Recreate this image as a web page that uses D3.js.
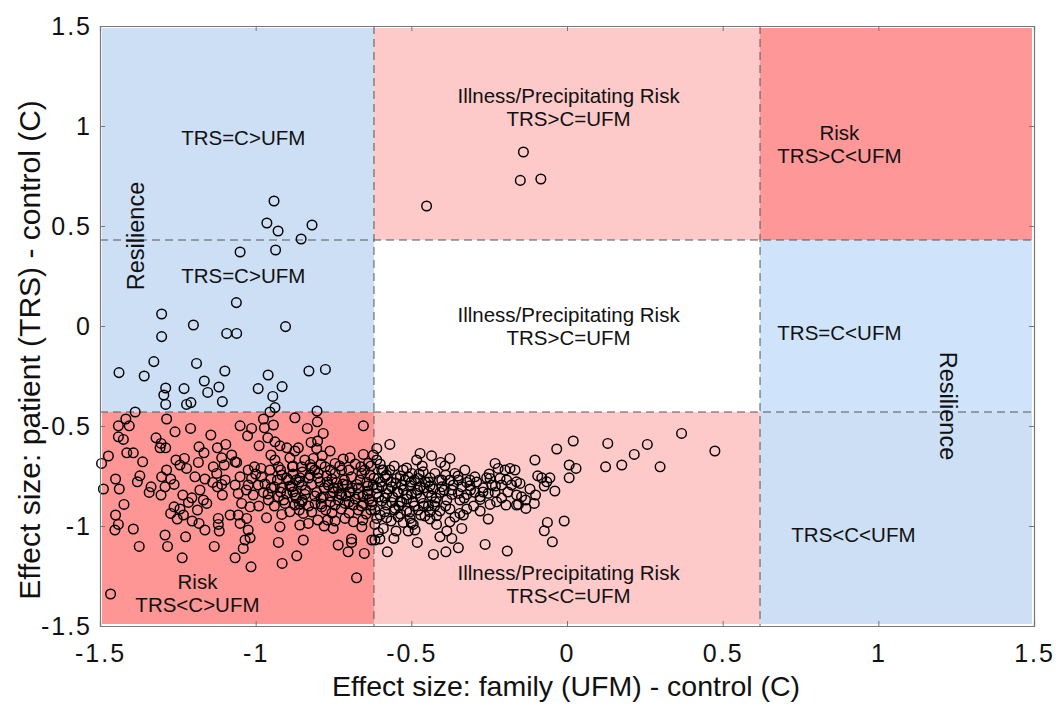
<!DOCTYPE html>
<html><head><meta charset="utf-8">
<script src="https://cdn.jsdelivr.net/npm/d3@7"></script>
<style>body{margin:0;background:#fff}svg{display:block;font-family:"Liberation Sans",Arial,sans-serif}</style>
</head><body><svg id="c" width="1056" height="706"></svg>
<script>
// ---- data ----
const xTicks = [-1.5, -1, -0.5, 0, 0.5, 1, 1.5];
const yTicks = [-1.5, -1, -0.5, 0, 0.5, 1, 1.5];
const tickText = ["-1.5", "-1", "-0.5", "0", "0.5", "1", "1.5"];
const xCuts = [-0.62, 0.62];
const yCuts = [-0.43, 0.43];
const xTitle = "Effect size: family (UFM) - control (C)";
const yTitle = "Effect size: patient (TRS) - control (C)";

// zones: [x0, x1, y0, y1, fill]
const zones = [
  [-1.5, -0.62, 0.43, 1.5, "#cddff5"],
  [-0.62, 0.62, 0.43, 1.5, "#fec9c9"],
  [0.62, 1.5, 0.43, 1.5, "#fe9797"],
  [-1.5, -0.62, -0.43, 0.43, "#cddff5"],
  [-0.62, 0.62, -0.43, 0.43, "#ffffff"],
  [0.62, 1.5, -0.43, 0.43, "#cfe4fb"],
  [-1.5, -0.62, -1.5, -0.43, "#fe9696"],
  [-0.62, 0.62, -1.5, -0.43, "#fec9c9"],
  [0.62, 1.5, -1.5, -0.43, "#cddff5"]
];
// labels: [x, y (first line centre), lines, rotation, size]
const zoneLabels = [
  [-1.04, 0.94, ["TRS=C>UFM"], 0, 20.5],
  [0.005, 1.15, ["Illness/Precipitating Risk", "TRS>C=UFM"], 0, 20.5],
  [0.875, 0.965, ["Risk", "TRS>C<UFM"], 0, 20.5],
  [-1.04, 0.25, ["TRS=C>UFM"], 0, 20.5],
  [0.005, 0.055, ["Illness/Precipitating Risk", "TRS>C=UFM"], 0, 20.5],
  [0.875, -0.035, ["TRS=C<UFM"], 0, 20.5],
  [-1.187, -1.28, ["Risk", "TRS<C>UFM"], 0, 20.5],
  [0.005, -1.235, ["Illness/Precipitating Risk", "TRS<C=UFM"], 0, 20.5],
  [0.92, -1.045, ["TRS<C<UFM"], 0, 20.5],
  [-1.385, 0.45, ["Resilience"], -90, 23.5],
  [1.225, -0.4, ["Resilience"], 90, 23.5]
];

const ptsUpper = [
  [-0.941,0.625],[-0.964,0.515],[-0.928,0.475],[-0.819,0.505],[-0.854,0.435],
  [-0.14,0.87],[-0.15,0.728],[-0.084,0.735],[-0.451,0.60]
];
const ptsMidLeft = [
  [-1.05,0.37],[-0.936,0.38],[-1.062,0.117],[-1.302,0.06],[-1.2,0.005],[-1.302,-0.053],
  [-1.093,-0.037],[-1.061,-0.037],[-0.904,-0.003],[-1.327,-0.178],[-1.19,-0.187],
  [-1.439,-0.233],[-1.358,-0.25],[-1.099,-0.225],[-1.165,-0.275],[-0.96,-0.245],
  [-0.829,-0.225],[-0.776,-0.217],[-1.289,-0.31],[-1.23,-0.313],[-1.118,-0.305],
  [-1.154,-0.332],[-0.992,-0.313],[-0.915,-0.303],[-0.945,-0.352],[-1.295,-0.345],
  [-1.289,-0.392],[-1.222,-0.392],[-1.208,-0.383],[-1.107,-0.378],[-0.938,-0.408],
  [-0.954,-0.43],[-0.803,-0.425],[-1.387,-0.43]
];
const ptsLowLeftA = [
  [-1.286,-0.465],[-1.209,-0.512],[-1.259,-0.529],[-1.417,-0.465],[-1.441,-0.499],[-1.406,-0.499],
  [-1.441,-0.554],[-1.425,-0.567],[-1.320,-0.559],[-1.304,-0.587],[-1.289,-0.609],[-1.307,-0.609],
  [-1.414,-0.634],[-1.393,-0.634],[-1.473,-0.65],[-1.495,-0.687],[-1.363,-0.679],[-1.144,-0.545],
  [-1.182,-0.604],[-1.166,-0.634],[-1.123,-0.609],[-1.096,-0.592],[-1.109,-0.659],[-1.077,-0.645],
  [-1.256,-0.67],[-1.229,-0.662],[-1.243,-0.695],[-1.222,-0.712],[-1.184,-0.682],[-1.136,-0.704],
  [-1.125,-0.737],[-1.101,-0.695],[-1.066,-0.679],[-1.286,-0.72],[-1.302,-0.754],[-1.273,-0.765],
  [-1.372,-0.749],[-1.380,-0.779],[-1.450,-0.765],[-1.438,-0.815],[-1.489,-0.815],[-1.336,-0.804],
  [-1.342,-0.832],[-1.304,-0.845],[-1.291,-0.804],[-1.262,-0.792],[-1.195,-0.754],[-1.163,-0.765],
  [-1.138,-0.782],[-1.109,-0.792],[-1.123,-0.804],[-1.098,-0.77],[-1.179,-0.82],[-1.234,-0.845],
  [-1.205,-0.859],[-1.168,-0.87],[-1.157,-0.887],[-1.107,-0.845],[-1.423,-0.892],[-1.262,-0.904],
  [-1.243,-0.915],[-1.216,-0.882],[-1.187,-0.92],[-1.273,-0.937],[-1.232,-0.945],[-1.252,-0.965],
  [-1.450,-0.945],[-1.441,-0.992],[-1.452,-1.02],[-1.204,-0.975],[-1.182,-0.987],[-1.163,-1.02],
  [-1.120,-0.962],[-1.120,-0.992],[-1.117,-1.025],[-1.082,-0.945],[-1.393,-1.015],[-1.291,-1.045],
  [-1.225,-1.054],[-1.374,-1.102],[-1.283,-1.102],[-1.133,-1.102],[-1.236,-1.159],[-1.066,-1.159],
  [-1.466,-1.34]
];
const ptsLowLeftB = [
  [-0.874,-0.459],[-1.050,-0.499],[-1.013,-0.512],[-1.026,-0.549],[-0.975,-0.465],[-0.972,-0.509],
  [-0.943,-0.495],[-0.834,-0.512],[-0.802,-0.479],[-0.783,-0.537],[-0.654,-0.499],[-0.961,-0.559],
  [-0.938,-0.579],[-0.989,-0.599],[-0.922,-0.599],[-0.900,-0.609],[-0.863,-0.609],[-0.822,-0.582],
  [-0.801,-0.575],[-0.804,-0.612],[-0.761,-0.625],[-0.874,-0.625],[-0.951,-0.645],[-0.938,-0.67],
  [-0.890,-0.659],[-0.842,-0.67],[-0.815,-0.662],[-0.786,-0.649],[-0.654,-0.642],[-1.061,-0.682],
  [-1.004,-0.704],[-0.983,-0.712],[-1.024,-0.72],[-0.954,-0.72],[-0.927,-0.704],[-0.882,-0.704],
  [-0.852,-0.704],[-0.825,-0.692],[-0.777,-0.704],[-0.745,-0.687],[-0.719,-0.665],[-0.697,-0.659],
  [-0.662,-0.704],[-0.638,-0.687],[-1.050,-0.754],[-1.013,-0.762],[-0.981,-0.754],[-0.951,-0.765],
  [-0.916,-0.745],[-0.895,-0.77],[-0.858,-0.759],[-0.825,-0.745],[-0.799,-0.737],[-0.772,-0.749],
  [-0.745,-0.737],[-0.724,-0.72],[-0.692,-0.754],[-0.659,-0.737],[-0.633,-0.745],[-1.066,-0.795],
  [-1.024,-0.795],[-0.992,-0.795],[-0.975,-0.832],[-0.940,-0.804],[-0.916,-0.809],[-0.884,-0.804],
  [-0.852,-0.795],[-0.820,-0.792],[-0.793,-0.779],[-0.767,-0.795],[-0.740,-0.782],[-0.708,-0.795],
  [-0.675,-0.792],[-0.643,-0.782],[-1.056,-0.837],[-1.008,-0.845],[-0.959,-0.87],[-0.927,-0.854],
  [-0.900,-0.837],[-0.874,-0.845],[-0.842,-0.842],[-0.804,-0.832],[-0.783,-0.854],[-0.751,-0.829],
  [-0.724,-0.845],[-0.697,-0.832],[-0.670,-0.842],[-0.638,-0.825],[-1.045,-0.887],[-1.018,-0.904],
  [-0.906,-0.887],[-0.874,-0.895],[-0.852,-0.879],[-0.809,-0.887],[-0.788,-0.904],[-0.745,-0.895],
  [-0.713,-0.887],[-0.686,-0.895],[-0.654,-0.887],[-0.627,-0.895],[-1.056,-0.945],[-1.029,-0.962],
  [-0.965,-0.959],[-0.916,-0.942],[-0.890,-0.929],[-0.847,-0.937],[-0.769,-0.97],[-0.745,-0.975],
  [-0.713,-0.962],[-0.686,-0.979],[-0.656,-0.97],[-1.050,-0.987],[-1.024,-1.02],[-0.922,-1.004],
  [-0.858,-0.995],[-0.831,-0.987],[-0.751,-1.012],[-0.659,-1.004],[-1.034,-1.07],[-1.018,-1.059],
  [-1.040,-1.112],[-0.927,-1.082],[-0.847,-1.07],[-0.735,-1.095],[-0.692,-1.065],[-0.692,-1.082],
  [-0.627,-1.07],[-0.703,-1.129],[-0.651,-1.137],[-0.868,-1.149],[-0.915,-1.187],[-1.015,-1.204],
  [-0.676,-1.259]
];
const ptsDense = [
  [-0.79,-0.69],[-0.76,-0.72],[-0.73,-0.70],[-0.70,-0.72],[-0.68,-0.69],[-0.65,-0.72],[-0.63,-0.70],
  [-0.78,-0.81],[-0.755,-0.765],[-0.735,-0.81],[-0.715,-0.77],[-0.69,-0.81],[-0.665,-0.77],[-0.64,-0.80],
  [-0.79,-0.86],[-0.76,-0.85],[-0.735,-0.87],[-0.71,-0.85],[-0.68,-0.865],[-0.655,-0.85],[-0.635,-0.865],
  [-0.775,-0.92],[-0.755,-0.935],[-0.725,-0.915],[-0.70,-0.935],[-0.67,-0.92],[-0.645,-0.94],
  [-0.81,-0.72],[-0.83,-0.76],[-0.85,-0.73],[-0.87,-0.77],[-0.84,-0.82],[-0.87,-0.86],[-0.83,-0.90],
  [-0.86,-0.92],[-0.89,-0.80],[-0.91,-0.87],[-0.80,-0.97],[-0.78,-1.0],
  [-0.60,-0.69],[-0.58,-0.745],[-0.555,-0.70],[-0.535,-0.75],[-0.515,-0.71],[-0.49,-0.77],[-0.465,-0.70],
  [-0.445,-0.78],[-0.60,-0.78],[-0.575,-0.815],[-0.55,-0.785],[-0.525,-0.82],[-0.50,-0.78],[-0.48,-0.82],
  [-0.455,-0.78],[-0.43,-0.815],[-0.605,-0.855],[-0.58,-0.895],[-0.56,-0.855],[-0.54,-0.90],[-0.515,-0.865],
  [-0.49,-0.90],[-0.47,-0.86],[-0.445,-0.90],[-0.42,-0.86],[-0.60,-0.945],[-0.565,-0.975],[-0.535,-0.94],
  [-0.50,-0.985],[-0.47,-0.945],[-0.44,-0.965],
  [-0.39,-0.745],[-0.37,-0.82],[-0.35,-0.75],[-0.33,-0.86],[-0.31,-0.82],[-0.29,-0.78],[-0.27,-0.83],
  [-0.25,-0.74],[-0.23,-0.80],[-0.21,-0.86],[-0.19,-0.83],[-0.39,-0.90],[-0.36,-0.955],[-0.30,-0.90],
  [-1.0,-0.74],[-0.97,-0.79],[-0.93,-0.77],[-0.96,-0.84],[-0.92,-0.83],[-0.99,-0.90],[-0.94,-0.90],
  [-0.88,-0.74],[-1.03,-0.82],
  [-0.88,-0.70],[-0.86,-0.78],[-0.82,-0.71],[-0.80,-0.76],[-0.77,-0.78],[-0.75,-0.81],[-0.72,-0.79],
  [-0.70,-0.83],[-0.67,-0.81],[-0.64,-0.84],[-0.62,-0.76],[-0.61,-0.81],[-0.85,-0.87],[-0.81,-0.85],
  [-0.79,-0.89],[-0.76,-0.88],[-0.73,-0.84],[-0.70,-0.88],[-0.66,-0.90],[-0.63,-0.92],
  [-0.59,-0.72],[-0.565,-0.78],[-0.545,-0.83],[-0.52,-0.77],[-0.50,-0.84],[-0.475,-0.74],[-0.46,-0.81],
  [-0.435,-0.85],[-0.41,-0.77],[-0.395,-0.82],[-0.585,-0.86],[-0.555,-0.92],[-0.53,-0.88],[-0.505,-0.93],
  [-0.46,-0.90],[-0.425,-0.90],[-0.92,-0.72],[-0.90,-0.76],[-0.95,-0.81],[-0.88,-0.83],[-0.86,-0.89],
  [-0.82,-0.93]
];
const ptsLowMid = [
  [-0.569,-0.592],[-0.611,-0.612],[-0.622,-0.645],[-0.611,-0.67],[-0.472,-0.637],[-0.435,-0.649],
  [-0.483,-0.67],[-0.376,-0.662],[-0.406,-0.682],[-0.392,-0.699],[-0.595,-0.72],[-0.569,-0.72],
  [-0.526,-0.72],[-0.499,-0.737],[-0.462,-0.729],[-0.424,-0.737],[-0.360,-0.737],[-0.328,-0.72],
  [-0.296,-0.754],[-0.258,-0.759],[-0.231,-0.687],[-0.221,-0.712],[-0.199,-0.72],[-0.183,-0.712],
  [-0.606,-0.762],[-0.585,-0.754],[-0.547,-0.762],[-0.510,-0.754],[-0.478,-0.762],[-0.440,-0.759],
  [-0.402,-0.77],[-0.376,-0.77],[-0.349,-0.77],[-0.322,-0.782],[-0.312,-0.77],[-0.247,-0.762],
  [-0.215,-0.762],[-0.194,-0.77],[-0.162,-0.779],[-0.622,-0.795],[-0.595,-0.804],[-0.563,-0.804],
  [-0.531,-0.795],[-0.504,-0.799],[-0.472,-0.804],[-0.440,-0.799],[-0.402,-0.804],[-0.365,-0.795],
  [-0.338,-0.804],[-0.312,-0.799],[-0.269,-0.809],[-0.242,-0.795],[-0.210,-0.795],[-0.178,-0.795],
  [-0.611,-0.837],[-0.579,-0.837],[-0.542,-0.832],[-0.515,-0.845],[-0.483,-0.837],[-0.446,-0.832],
  [-0.408,-0.832],[-0.370,-0.842],[-0.349,-0.837],[-0.322,-0.842],[-0.296,-0.832],[-0.279,-0.854],
  [-0.253,-0.837],[-0.231,-0.832],[-0.162,-0.845],[-0.627,-0.879],[-0.595,-0.875],[-0.563,-0.882],
  [-0.536,-0.879],[-0.494,-0.879],[-0.462,-0.887],[-0.424,-0.879],[-0.386,-0.87],[-0.344,-0.87],
  [-0.279,-0.867],[-0.247,-0.892],[-0.226,-0.879],[-0.196,-0.895],[-0.162,-0.895],[-0.617,-0.92],
  [-0.585,-0.929],[-0.552,-0.912],[-0.515,-0.925],[-0.478,-0.92],[-0.440,-0.929],[-0.408,-0.925],
  [-0.376,-0.915],[-0.344,-0.937],[-0.322,-0.915],[-0.279,-0.925],[-0.611,-0.962],[-0.579,-0.959],
  [-0.542,-0.954],[-0.504,-0.962],[-0.456,-0.95],[-0.419,-0.949],[-0.376,-0.979],[-0.333,-0.945],
  [-0.253,-0.965],[-0.617,-0.992],[-0.590,-1.012],[-0.526,-0.982],[-0.494,-0.992],[-0.419,-0.992],
  [-0.338,-1.012],[-0.606,-1.032],[-0.549,-1.025],[-0.510,-1.025],[-0.488,-1.02],[-0.386,-1.025],
  [-0.601,-1.065],[-0.617,-1.07],[-0.556,-1.062],[-0.408,-1.054],[-0.370,-1.062],[-0.481,-1.082],
  [-0.349,-1.109],[-0.263,-1.092],[-0.577,-1.129],[-0.429,-1.142],[-0.389,-1.129],[-0.192,-1.125]
];
const ptsLowRight = [
  [0.368,-0.537],[0.475,-0.625],[0.131,-0.587],[0.258,-0.592],[0.216,-0.642],[0.020,-0.575],
  [-0.033,-0.615],[-0.103,-0.67],[0.176,-0.695],[0.124,-0.704],[0.299,-0.704],[0.007,-0.695],
  [0.029,-0.712],[0.007,-0.759],[-0.094,-0.749],[-0.081,-0.759],[-0.055,-0.759],[-0.065,-0.779],
  [-0.073,-0.80],[-0.039,-0.825],[-0.151,-0.787],[-0.119,-0.815],[-0.101,-0.845],[-0.146,-0.854],
  [-0.133,-0.87],[-0.156,-0.892],[-0.105,-0.887],[-0.132,-0.912],[-0.167,-0.72],[-0.063,-0.982],
  [-0.009,-0.975],[-0.073,-1.024],[-0.047,-1.079]
];

// ---- chart ----
const W = 1056, H = 706;
const m = {l:100, r:22, t:26, b:80};
const svg = d3.select("#c");
const x = d3.scaleLinear().domain([-1.5, 1.5]).range([m.l, W - m.r]);
const y = d3.scaleLinear().domain([-1.5, 1.5]).range([H - m.b, m.t]);

const inset = 2;
svg.append("g").selectAll("rect").data(zones).join("rect")
  .attr("x", d => x(d[0]) + (d[0] === -1.5 ? inset : 0))
  .attr("y", d => y(d[3]) + (d[3] === 1.5 ? inset : 0))
  .attr("width", d => x(d[1]) - x(d[0]) - (d[0] === -1.5 ? inset : 0) - (d[1] === 1.5 ? inset : 0))
  .attr("height", d => y(d[2]) - y(d[3]) - (d[3] === 1.5 ? inset : 0) - (d[2] === -1.5 ? inset : 0))
  .attr("fill", d => d[4]);

// dashed cut lines
const dash = svg.append("g").attr("stroke", "#555").attr("stroke-width", 1).attr("stroke-dasharray", "8,5");
dash.selectAll("line.v").data(xCuts).join("line").attr("class", "v")
  .attr("x1", d => x(d)).attr("x2", d => x(d)).attr("y1", y(1.5)).attr("y2", y(-1.5));
dash.selectAll("line.h").data(yCuts).join("line").attr("class", "h")
  .attr("y1", d => y(d)).attr("y2", d => y(d)).attr("x1", x(-1.5)).attr("x2", x(1.5));

// zone labels
const lab = svg.append("g").attr("fill", "#111").attr("text-anchor", "middle");
zoneLabels.forEach(d => {
  const t = lab.append("text").attr("font-size", d[4])
    .attr("transform", `translate(${x(d[0])},${y(d[1])}) rotate(${d[3]})`);
  d[2].forEach((s, i) => t.append("tspan").attr("x", 0).attr("dy", i === 0 ? "0.35em" : "1.12em").text(s));
});

// points
const allPts = [].concat(ptsUpper, ptsMidLeft, ptsLowLeftA, ptsLowLeftB, ptsDense, ptsLowMid, ptsLowRight);
svg.append("g").selectAll("circle").data(allPts).join("circle")
  .attr("cx", d => x(d[0])).attr("cy", d => y(d[1])).attr("r", 4.8)
  .attr("fill", "none").attr("stroke", "#000").attr("stroke-width", 1.45);

// axes (box with inward ticks)
const axCol = "#777";
const fmt = d => tickText[xTicks.indexOf(d)];
const gx = svg.append("g").attr("transform", `translate(0,${y(-1.5)})`)
  .call(d3.axisBottom(x).tickValues(xTicks).tickSize(-5).tickPadding(18).tickFormat(fmt));
const gxt = svg.append("g").attr("transform", `translate(0,${y(1.5)})`)
  .call(d3.axisTop(x).tickValues(xTicks).tickSize(-5).tickFormat(""));
const gy = svg.append("g").attr("transform", `translate(${x(-1.5)},0)`)
  .call(d3.axisLeft(y).tickValues(yTicks).tickSize(-5).tickPadding(8).tickFormat(fmt));
const gyr = svg.append("g").attr("transform", `translate(${x(1.5)},0)`)
  .call(d3.axisRight(y).tickValues(yTicks).tickSize(-5).tickFormat(""));
[gx, gxt, gy, gyr].forEach(g => {
  g.select(".domain").attr("stroke", axCol).attr("stroke-width", 1.2);
  g.selectAll(".tick line").attr("stroke", axCol);
  g.selectAll("text").attr("font-size", 25).attr("letter-spacing", "2px").attr("fill", "#111")
    .attr("font-family", "Liberation Sans, Arial, sans-serif");
});
gx.selectAll("text").attr("dy", "0.71em");

// axis titles
svg.append("text").attr("x", 566).attr("y", 696).attr("text-anchor", "middle")
  .attr("font-size", 28.5).attr("fill", "#111").text(xTitle);
svg.append("text").attr("transform", `translate(40,350) rotate(-90)`).attr("text-anchor", "middle")
  .attr("font-size", 30).attr("fill", "#111").text(yTitle);
</script></body></html>
